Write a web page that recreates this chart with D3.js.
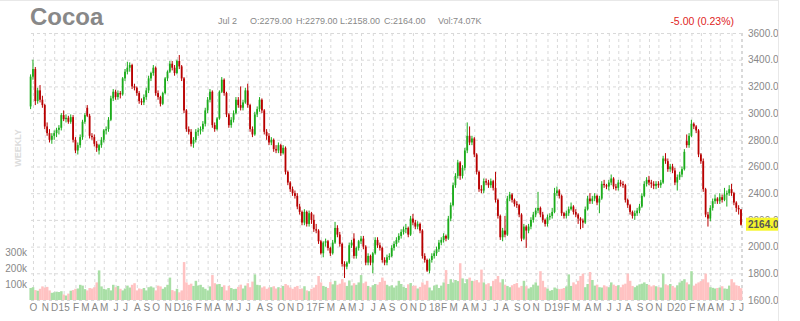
<!DOCTYPE html>
<html>
<head>
<meta charset="utf-8" />
<title>Cocoa</title>
<script src="https://d3js.org/d3.v7.min.js"></script>
<style>
  body { margin: 0; background: #fff; }
  svg { display: block; font-family: "Liberation Sans", Arial, sans-serif; }
</style>
</head>
<body>
<svg></svg>
<script>
// weekly bars, one per Friday from 26 Sep 2014 to 3 Jul 2020 (302 weeks)
const firstWeek = new Date(2014, 8, 26)
const lastWeek = new Date(2020, 6, 3)

const opens = [
  3050,3273,3330,3090,3170,3100,3060,2900,2850,2800,
  2830,2850,2875,2890,2985,2955,2965,2935,2970,2800,
  2720,2760,2820,2935,3040,2980,2830,2820,2770,2720,
  2760,2800,2870,2880,2950,3110,3160,3120,3150,3140,
  3260,3310,3340,3360,3200,3190,3150,3090,3080,3120,
  3170,3260,3300,3340,3150,3120,3070,3150,3260,3310,
  3370,3340,3300,3390,3350,3260,3020,2880,2860,2770,
  2800,2860,2870,2880,2920,3020,3100,3160,2910,2880,
  2960,3160,3250,3150,2990,2910,2950,3000,3100,3060,
  3040,3080,3170,3060,2880,2840,2990,3030,3100,3020,
  2860,2830,2780,2800,2730,2720,2760,2700,2740,2560,
  2480,2430,2400,2380,2300,2260,2180,2260,2170,2250,
  2200,2130,2120,2040,1950,2030,2040,1990,1950,2030,
  2140,2090,2020,1870,1850,1880,2010,2060,1930,1990,
  2040,2060,2000,1880,1930,1880,1950,2050,2010,1990,
  1900,1880,1920,1930,1990,2020,2050,2080,2110,2130,
  2140,2090,2210,2180,2150,2170,2120,1930,1900,1820,
  1900,1930,1950,1980,2030,2050,2080,2060,2210,2310,
  2460,2530,2630,2530,2590,2720,2830,2780,2810,2690,
  2560,2430,2420,2490,2480,2460,2490,2440,2350,2230,
  2070,2120,2090,2360,2390,2350,2320,2310,2240,2060,
  2150,2120,2150,2200,2240,2270,2290,2240,2200,2170,
  2220,2230,2260,2400,2420,2380,2250,2230,2250,2280,
  2300,2260,2240,2210,2195,2180,2280,2360,2340,2360,
  2380,2330,2360,2470,2460,2450,2480,2510,2450,2440,
  2480,2470,2460,2350,2310,2260,2230,2250,2270,2300,
  2380,2470,2500,2480,2470,2455,2470,2460,2480,2660,
  2640,2580,2600,2570,2480,2520,2540,2580,2790,2760,
  2830,2920,2900,2870,2690,2640,2430,2240,2210,2290,
  2340,2360,2340,2370,2350,2390,2400,2430,2400,2330,
  2290,2279]

const highs = [
  3290,3400,3345,3190,3210,3130,3070,2930,2880,2850,
  2870,2890,2910,3000,3020,2990,2980,2990,2985,2820,
  2780,2840,2950,3000,3060,2995,2850,2840,2790,2770,
  2820,2880,2900,2970,3130,3180,3175,3170,3165,3270,
  3330,3385,3380,3370,3220,3200,3165,3110,3140,3190,
  3280,3310,3360,3350,3170,3130,3160,3270,3320,3390,
  3390,3360,3400,3435,3360,3270,3030,2900,2880,2820,
  2880,2890,2900,2940,3040,3120,3180,3170,2930,2970,
  3170,3270,3260,3160,3000,2970,3020,3120,3120,3200,
  3100,3190,3220,3070,2900,3010,3050,3120,3110,3030,
  2880,2850,2820,2810,2760,2780,2770,2760,2750,2570,
  2490,2450,2420,2400,2320,2270,2280,2270,2270,2260,
  2240,2170,2130,2050,2040,2060,2050,2000,2050,2185,
  2160,2110,2030,1890,1890,2030,2050,2100,2000,2050,
  2080,2080,2010,1950,1940,1960,2070,2070,2030,2000,
  1920,1940,1950,2010,2040,2070,2100,2130,2150,2170,
  2150,2230,2245,2200,2190,2180,2130,1950,1910,1910,
  1950,1970,2000,2050,2070,2100,2090,2230,2330,2480,
  2550,2650,2640,2610,2740,2930,2900,2830,2820,2700,
  2570,2460,2510,2510,2500,2510,2500,2560,2360,2240,
  2140,2230,2380,2410,2400,2360,2340,2320,2250,2170,
  2160,2170,2220,2260,2290,2410,2300,2260,2210,2240,
  2250,2290,2440,2450,2430,2390,2260,2270,2300,2330,
  2310,2280,2250,2220,2210,2300,2380,2400,2380,2400,
  2390,2380,2490,2500,2470,2500,2540,2520,2470,2500,
  2500,2490,2470,2360,2320,2270,2270,2290,2320,2400,
  2490,2520,2530,2500,2490,2490,2490,2500,2680,2700,
  2660,2620,2620,2590,2540,2560,2600,2730,2840,2850,
  2950,2930,2910,2880,2700,2660,2440,2260,2310,2360,
  2390,2370,2400,2390,2440,2420,2460,2470,2410,2340,
  2310,2279]

const lows = [
  3030,3250,3060,3070,3080,3040,2880,2830,2780,2770,
  2800,2820,2840,2870,2940,2930,2920,2920,2780,2700,
  2690,2740,2800,2920,2970,2810,2800,2750,2710,2690,
  2740,2780,2840,2860,2940,3090,3100,3100,3110,3130,
  3240,3290,3310,3180,3170,3130,3070,3060,3060,3100,
  3150,3240,3280,3130,3100,3050,3060,3140,3240,3300,
  3320,3280,3290,3330,3240,3000,2860,2840,2750,2740,
  2780,2830,2840,2860,2900,3000,3080,2890,2860,2870,
  2950,3150,3130,2970,2890,2890,2930,2990,3040,3020,
  3020,3070,3040,2860,2820,2830,2970,3010,3000,2840,
  2800,2760,2760,2710,2700,2700,2680,2690,2540,2460,
  2410,2380,2360,2280,2240,2160,2160,2150,2150,2170,
  2110,2100,2020,1940,1920,2000,1970,1930,1940,2020,
  2070,2000,1850,1765,1830,1870,1990,1910,1910,1970,
  2020,1980,1860,1860,1860,1800,1940,1990,1970,1880,
  1860,1860,1900,1920,1970,2000,2030,2060,2090,2100,
  2070,2080,2160,2130,2130,2100,1910,1880,1810,1800,
  1880,1910,1930,1960,2010,2030,2040,2050,2190,2300,
  2440,2510,2500,2510,2570,2700,2760,2760,2670,2540,
  2410,2400,2400,2460,2440,2440,2420,2330,2210,2050,
  2040,2070,2080,2340,2330,2300,2290,2220,2040,2050,
  1990,2100,2130,2180,2220,2250,2220,2180,2150,2150,
  2200,2210,2250,2380,2360,2230,2210,2210,2230,2270,
  2240,2220,2170,2130,2140,2170,2270,2320,2320,2340,
  2310,2250,2350,2440,2430,2420,2460,2430,2420,2420,
  2450,2440,2330,2290,2240,2210,2200,2230,2250,2290,
  2370,2450,2460,2440,2430,2430,2440,2440,2470,2620,
  2560,2560,2550,2460,2420,2500,2520,2570,2740,2740,
  2820,2880,2850,2670,2620,2410,2220,2150,2190,2270,
  2320,2320,2320,2330,2340,2300,2380,2380,2310,2260,
  2240,2158]

const closes = [
  3273,3330,3090,3170,3100,3060,2900,2850,2800,2830,
  2850,2875,2890,2985,2955,2965,2935,2970,2800,2720,
  2760,2820,2935,2985,2980,2830,2820,2770,2740,2760,
  2800,2870,2880,2950,3110,3160,3120,3150,3140,3260,
  3310,3340,3360,3200,3190,3150,3090,3080,3120,3170,
  3260,3300,3340,3150,3120,3070,3150,3260,3310,3370,
  3340,3300,3390,3350,3260,3020,2880,2860,2770,2800,
  2860,2870,2880,2920,3020,3100,3160,2910,2880,2960,
  3160,3250,3150,2990,2910,2950,3000,3100,3060,3040,
  3080,3170,3060,2880,2840,2990,3030,3100,3020,2860,
  2830,2780,2800,2730,2720,2760,2700,2740,2560,2480,
  2430,2400,2380,2300,2260,2180,2260,2170,2250,2200,
  2130,2120,2040,1950,2030,2040,1990,1950,2030,2140,
  2090,2020,1870,1850,1880,2010,2030,1930,1990,2040,
  2060,2000,1880,1930,1880,1950,2050,2010,1990,1900,
  1880,1920,1930,1990,2020,2050,2080,2110,2130,2140,
  2090,2210,2180,2150,2170,2120,1930,1900,1820,1900,
  1930,1950,1980,2030,2050,2080,2060,2210,2310,2460,
  2530,2630,2530,2590,2720,2830,2780,2810,2690,2560,
  2430,2420,2490,2480,2460,2490,2440,2350,2230,2070,
  2120,2090,2360,2390,2350,2320,2310,2240,2060,2150,
  2120,2150,2200,2240,2270,2290,2240,2200,2170,2220,
  2230,2260,2400,2420,2380,2250,2230,2250,2280,2300,
  2260,2240,2210,2195,2180,2280,2360,2340,2360,2380,
  2330,2360,2470,2460,2450,2480,2510,2450,2440,2480,
  2470,2460,2350,2310,2260,2230,2250,2270,2300,2380,
  2470,2500,2480,2470,2455,2470,2460,2480,2660,2640,
  2580,2600,2570,2480,2520,2540,2580,2710,2760,2830,
  2920,2900,2870,2690,2640,2430,2240,2210,2290,2340,
  2360,2340,2370,2350,2390,2400,2430,2400,2330,2290,
  2279,2164]

// weekly volume, thousands of contracts
const volumes = [
  75,80,62,58,70,85,78,82,60,45,
  48,52,50,55,35,28,40,58,62,70,
  72,95,90,68,60,75,72,80,110,185,
  85,70,66,75,60,95,80,88,70,60,
  72,90,78,95,105,60,72,68,75,60,
  80,85,78,60,90,85,70,80,95,140,
  62,55,70,48,60,237,110,95,102,88,
  120,90,95,80,70,60,85,156,105,98,
  100,82,92,60,88,75,68,70,82,96,
  72,90,105,80,115,160,95,92,78,85,
  70,78,80,86,72,80,75,88,100,92,
  78,70,82,88,70,72,86,60,55,70,
  78,95,150,110,88,82,75,112,98,120,
  95,102,130,110,88,122,90,105,95,110,
  156,105,115,88,80,92,100,96,112,140,
  120,95,86,92,78,90,120,100,82,75,
  98,106,88,90,72,82,110,96,120,78,
  60,90,96,75,90,110,187,100,130,110,
  125,118,230,135,105,130,140,120,118,125,
  110,190,110,98,105,86,120,130,150,110,
  130,96,88,80,92,100,106,78,88,120,
  86,72,80,96,110,90,180,120,80,72,
  58,62,78,72,68,70,75,85,160,88,
  110,98,120,150,165,80,100,175,125,90,
  96,80,78,92,85,80,110,96,88,92,
  80,96,102,165,120,88,80,90,98,102,
  110,100,95,85,92,86,80,78,165,98,
  92,100,88,78,92,110,120,130,110,98,
  180,90,102,110,118,130,165,110,80,76,
  72,75,78,86,72,70,90,130,110,92,
  88,74]

const priceTicks = [1600,1800,2000,2200,2400,2600,2800,3000,3200,3400,3600]
const volTicks = [100,200,300]
const lastPrice = 2164
const headerItems = ['Jul 2','O:2279.00','H:2279.00','L:2158.00','C:2164.00','Vol:74.07K']
const headerX = [218,250,296,340,384,438]
const changeText = '-5.00 (0.23%)'

const weeks = d3.timeFriday.range(firstWeek, d3.timeDay.offset(lastWeek, 1))

const svg = d3.select('svg')
  .attr('width', 800)
  .attr('height', 321)

const xScale = d3.scaleTime()
  .domain([weeks[0], weeks[weeks.length - 1]])
  .range([30.6, 741])

const yScale = d3.scaleLinear()
  .domain([1600, 3600])
  .range([300, 33])

const vScale = d3.scaleLinear()
  .domain([0, 300])
  .range([300, 252])

const step = xScale(weeks[1]) - xScale(weeks[0])

// first bar of each month
const monthStarts = weeks.filter((d, i) => i > 0 && d.getMonth() != weeks[i - 1].getMonth())
const monthLabel = d => d.getMonth() == 0 ? d3.timeFormat('%y')(d) : d3.timeFormat('%b')(d)[0]

// frame
svg.append('line').attr('x1', 0).attr('x2', 778).attr('y1', 0.5).attr('y2', 0.5).attr('stroke', '#e8e8e8')
svg.append('line').attr('x1', 778.5).attr('x2', 778.5).attr('y1', 0).attr('y2', 321).attr('stroke', '#e8e8e8')

// grid
const hgrid = svg.append('g')
  .attr('transform', 'translate(742,0)')
  .call(d3.axisLeft(yScale).tickValues(priceTicks).tickSize(714).tickFormat(''))
const vgrid = svg.append('g')
  .attr('transform', 'translate(0,300)')
  .call(d3.axisBottom(xScale).tickValues(monthStarts).tickSize(-267).tickFormat(''))
vgrid.append('line').attr('x1', 742.5).attr('x2', 742.5).attr('y1', 0).attr('y2', -267)
svg.selectAll('.domain').remove()
hgrid.selectAll('line').attr('stroke', '#d9d9d9').attr('stroke-dasharray', '3,3')
vgrid.selectAll('line').attr('stroke', '#d9d9d9').attr('stroke-dasharray', '3,3')

// volume
svg.append('g').selectAll('rect')
  .data(volumes)
  .enter()
  .append('rect')
  .attr('x', (d, i) => xScale(weeks[i]) - step / 2)
  .attr('width', step + 0.15)
  .attr('y', d => vScale(d))
  .attr('height', d => vScale(0) - vScale(d))
  .attr('fill', (d, i) => closes[i] >= opens[i] ? '#a9dfa6' : '#ffc2c2')

// candles
const candles = svg.append('g').selectAll('g')
  .data(closes)
  .enter()
  .append('g')
  .attr('class', (d, i) => d >= opens[i] ? 'up' : 'down')

candles.append('line')
  .attr('x1', (d, i) => xScale(weeks[i]))
  .attr('x2', (d, i) => xScale(weeks[i]))
  .attr('y1', (d, i) => yScale(highs[i]))
  .attr('y2', (d, i) => yScale(lows[i]))
  .attr('stroke-width', 1)

candles.append('rect')
  .attr('x', (d, i) => xScale(weeks[i]) - 0.9)
  .attr('width', 1.8)
  .attr('y', (d, i) => yScale(Math.max(d, opens[i])))
  .attr('height', (d, i) => Math.max(1, Math.abs(yScale(d) - yScale(opens[i]))))

svg.selectAll('.up line').attr('stroke', '#1cac1c')
svg.selectAll('.up rect').attr('fill', '#1cac1c')
svg.selectAll('.down line').attr('stroke', '#b80000')
svg.selectAll('.down rect').attr('fill', '#b80000')

// month labels
const xAxis = svg.append('g')
  .attr('transform', 'translate(0,300)')
  .call(d3.axisBottom(xScale).tickValues(monthStarts).tickSize(0).tickPadding(4).tickFormat(monthLabel))
xAxis.select('.domain').remove()
xAxis.selectAll('text').attr('fill', '#888').attr('font-size', 10).attr('font-family', '"Liberation Sans", Arial, sans-serif')

// price labels on the right, cut by the frame
svg.append('clipPath').attr('id', 'rclip')
  .append('rect').attr('x', 740).attr('y', 0).attr('width', 38).attr('height', 321)

const right = svg.append('g').attr('clip-path', 'url(#rclip)')
const yAxis = right.append('g')
  .attr('transform', 'translate(745,0)')
  .call(d3.axisRight(yScale).tickValues(priceTicks).tickSize(0).tickPadding(3).tickFormat(d3.format('.2f')))
yAxis.select('.domain').remove()
yAxis.selectAll('text').attr('fill', '#888').attr('font-size', 10).attr('font-family', '"Liberation Sans", Arial, sans-serif')

right.append('rect')
  .attr('x', 746)
  .attr('y', yScale(lastPrice) - 7)
  .attr('width', 40)
  .attr('height', 13)
  .attr('fill', '#f6f62c')
right.append('text')
  .attr('x', 748)
  .attr('y', yScale(lastPrice) + 3.5)
  .attr('font-size', 10)
  .attr('font-weight', 'bold')
  .attr('fill', '#555')
  .text(d3.format('.2f')(lastPrice))

// volume labels
const vAxis = svg.append('g')
  .attr('transform', 'translate(28,0)')
  .call(d3.axisLeft(vScale).tickValues(volTicks).tickSize(0).tickPadding(1).tickFormat(d => d + 'k'))
vAxis.select('.domain').remove()
vAxis.selectAll('text').attr('fill', '#888').attr('font-size', 10).attr('font-family', '"Liberation Sans", Arial, sans-serif')

// header
svg.append('text')
  .attr('x', 30)
  .attr('y', 25)
  .attr('font-size', 24)
  .attr('font-weight', 'bold')
  .attr('fill', '#888')
  .text('Cocoa')

svg.append('g').selectAll('text')
  .data(headerItems)
  .enter()
  .append('text')
  .attr('x', (d, i) => headerX[i])
  .attr('y', 24)
  .attr('font-size', 9)
  .attr('fill', '#888')
  .text(d => d)

svg.append('text')
  .attr('x', 734)
  .attr('y', 25)
  .attr('text-anchor', 'end')
  .attr('font-size', 10.5)
  .attr('fill', '#e02424')
  .text(changeText)

svg.append('text')
  .attr('transform', 'translate(21,148) rotate(-90)')
  .attr('text-anchor', 'middle')
  .attr('font-size', 9)
  .attr('font-weight', 'bold')
  .attr('fill', '#dcdcdc')
  .text('WEEKLY')
</script>
</body>
</html>
